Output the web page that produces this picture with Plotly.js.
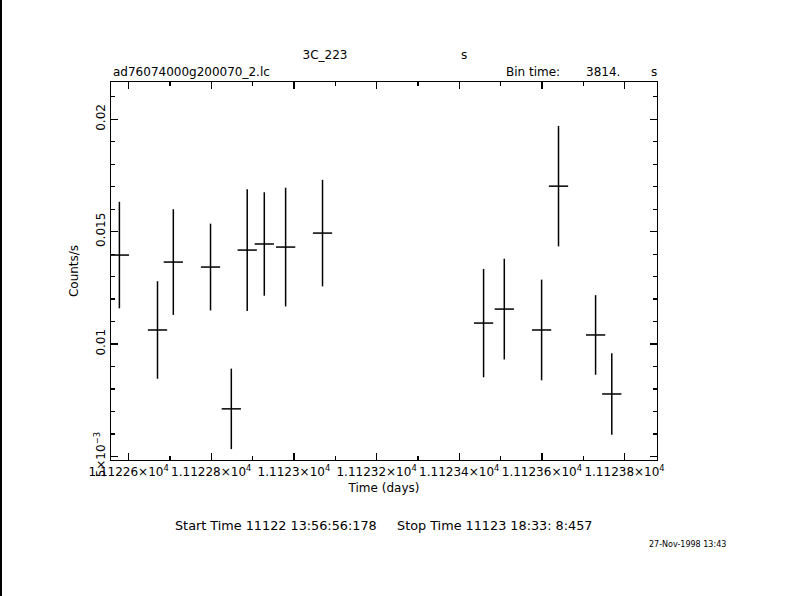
<!DOCTYPE html>
<html>
<head>
<meta charset="utf-8">
<script src="https://cdn.plot.ly/plotly-3.0.1.min.js"></script>
<style>
  html, body { margin: 0; padding: 0; background: #fff; }
  #chart { width: 790px; height: 596px; }
</style>
</head>
<body>
<div id="chart"></div>
<script>
// ---- data (time in days, rate in counts/s) ----
const times = [11122.5777, 11122.6699, 11122.7082, 11122.7982, 11122.8485,
               11122.8870, 11122.9283, 11122.9799, 11123.0692, 11123.4589,
               11123.5090, 11123.5993, 11123.6402, 11123.7299, 11123.7691];
const rates = [0.013958, 0.010626, 0.013647, 0.013425, 0.007117,
               0.014180, 0.014451, 0.014314, 0.014936, 0.010933,
               0.011555, 0.010626, 0.017024, 0.010404, 0.007779];
const rateErr = [0.00237, 0.00217, 0.00235, 0.00193, 0.00179,
                 0.00271, 0.00230, 0.00264, 0.00237, 0.00241,
                 0.00224, 0.00224, 0.00268, 0.00177, 0.00181];
const halfBinDays = 0.0233;

const xTickVals = [11122.6, 11122.8, 11123.0, 11123.2, 11123.4, 11123.6, 11123.8];
const xTickText = ['1.11226×10<sup>4</sup>', '1.11228×10<sup>4</sup>', '1.1123×10<sup>4</sup>',
                   '1.11232×10<sup>4</sup>', '1.11234×10<sup>4</sup>', '1.11236×10<sup>4</sup>',
                   '1.11238×10<sup>4</sup>'];
const xMinorVals = [11122.6, 11122.7, 11122.8, 11122.9, 11123.0, 11123.1, 11123.2,
                    11123.3, 11123.4, 11123.5, 11123.6, 11123.7, 11123.8];
const yTickVals = [0.005, 0.01, 0.015, 0.02];
const yTickText = ['5×10<sup>−3</sup>', '0.01', '0.015', '0.02'];
const yMinorVals = [0.005, 0.006, 0.007, 0.008, 0.009, 0.010, 0.011, 0.012, 0.013,
                    0.014, 0.015, 0.016, 0.017, 0.018, 0.019, 0.020, 0.021];

const titleText = '3C_223';
const fileName = 'ad76074000g200070_2.lc';
const binLabel = 'Bin time:';
const binValue = '3814.';
const timeRangeText = 'Start Time 11122 13:56:56:178     Stop Time 11123 18:33: 8:457';
const dateText = '27-Nov-1998 13:43';

// ---- layout geometry (pixels) ----
const W = 790, H = 596;
const L = 111, R = 657, T = 82, B = 460;
const px = x => (x - L) / (R - L);
const py = y => (B - y) / (B - T);
const FONT = 'DejaVu Sans, Arial, sans-serif';

const trace = {
  type: 'scatter',
  mode: 'markers',
  x: times,
  y: rates,
  marker: { size: 1, color: 'rgba(0,0,0,0)' },
  error_y: { type: 'data', array: rateErr, symmetric: true, width: 0, thickness: 1.5, color: '#000' },
  error_x: { type: 'constant', value: halfBinDays, width: 0, thickness: 1.5, color: '#000' },
  hoverinfo: 'skip',
  showlegend: false
};

const axisCommon = {
  showline: true, linecolor: '#000', linewidth: 1.2, mirror: 'allticks',
  ticks: 'inside', ticklen: 7, tickwidth: 1.2, tickcolor: '#000',
  showgrid: false, zeroline: false,
  tickfont: { family: FONT, size: 12, color: '#000' },
  tickmode: 'array'
};

const layout = {
  width: W, height: H,
  margin: { l: L, r: W - R, t: T, b: H - B, pad: 0 },
  paper_bgcolor: '#fff', plot_bgcolor: '#fff',
  font: { family: FONT, size: 12, color: '#000' },
  title: {
    text: titleText, xref: 'container', yref: 'container',
    x: 325 / W, xanchor: 'center', y: 1 - 55 / H, yanchor: 'middle',
    pad: { t: 0, b: 0, l: 0, r: 0 },
    font: { family: FONT, size: 12, color: '#000' }
  },
  xaxis: Object.assign({}, axisCommon, {
    range: [11122.5574, 11123.8785],
    tickvals: xTickVals, ticktext: xTickText,
    minor: { tickmode: 'array', tickvals: xMinorVals, ticks: 'inside', ticklen: 4, tickwidth: 1.2, tickcolor: '#000', showgrid: false },
    title: { text: 'Time (days)', standoff: 6, font: { family: FONT, size: 12, color: '#000' } }
  }),
  yaxis: Object.assign({}, axisCommon, {
    range: [0.004842, 0.021657],
    tickvals: yTickVals, ticktext: yTickText, tickangle: -90,
    minor: { tickmode: 'array', tickvals: yMinorVals, ticks: 'inside', ticklen: 4, tickwidth: 1.2, tickcolor: '#000', showgrid: false },
    title: { text: 'Counts/s', standoff: 10, font: { family: FONT, size: 12, color: '#000' } }
  }),
  annotations: [
    { text: 's', xref: 'paper', yref: 'paper', x: px(463.5), y: py(55), xanchor: 'center', yanchor: 'middle', showarrow: false },
    { text: fileName, xref: 'paper', yref: 'paper', x: px(111), y: py(72), xanchor: 'left', yanchor: 'middle', showarrow: false },
    { text: binLabel, xref: 'paper', yref: 'paper', x: px(504), y: py(72), xanchor: 'left', yanchor: 'middle', showarrow: false },
    { text: binValue, xref: 'paper', yref: 'paper', x: px(584), y: py(72), xanchor: 'left', yanchor: 'middle', showarrow: false },
    { text: 's', xref: 'paper', yref: 'paper', x: px(654), y: py(72), xanchor: 'center', yanchor: 'middle', showarrow: false },
    { text: timeRangeText.replace(/ {2,}/g, m => '&nbsp;'.repeat(m.length)), xref: 'paper', yref: 'paper', x: px(384), y: py(525), xanchor: 'center', yanchor: 'middle', showarrow: false, font: { family: FONT, size: 12.8, color: '#000' } },
    { text: dateText, xref: 'paper', yref: 'paper', x: px(647), y: py(544), xanchor: 'left', yanchor: 'middle', showarrow: false, font: { family: FONT, size: 8, color: '#000' } }
  ],
  shapes: [
    { type: 'line', xref: 'paper', yref: 'paper', x0: px(1), x1: px(1), y0: py(0), y1: py(H), line: { color: '#000', width: 2 } }
  ]
};

Plotly.newPlot('chart', [trace], layout, { staticPlot: true, displayModeBar: false });
</script>
</body>
</html>
